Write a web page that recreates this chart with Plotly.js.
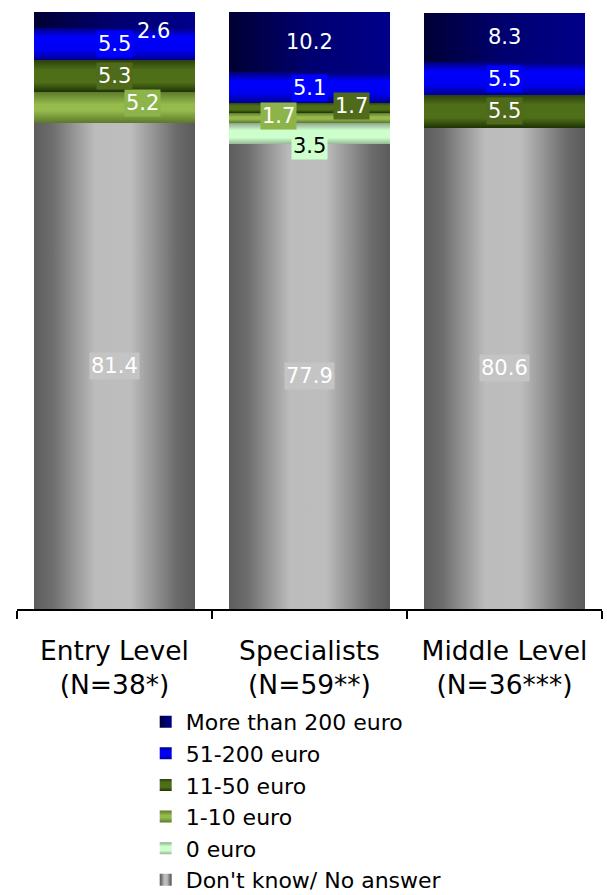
<!DOCTYPE html>
<html>
<head>
<meta charset="utf-8">
<script src="https://cdn.plot.ly/plotly-3.0.1.min.js"></script>
<style>
  html, body { margin: 0; padding: 0; background: #fff; }
  #chart { width: 607px; height: 895px; }
</style>
</head>
<body>
<div id="chart"></div>
<script>
// ---- Data ----
const categories = ['Entry Level<br>(N=38*)', 'Specialists<br>(N=59**)', 'Middle Level<br>(N=36***)'];
const seriesNames = ["Don't know/ No answer", '0 euro', '1-10 euro', '11-50 euro', '51-200 euro', 'More than 200 euro'];
const dontKnow   = [81.4, 77.9, 80.6];
const euro0      = [0, 3.5, 0];
const euro1to10  = [5.2, 1.7, 0];
const euro11to50 = [5.3, 1.7, 5.5];
const euro51to200 = [5.5, 5.1, 5.5];
const euroOver200 = [2.6, 10.2, 8.3];
const seriesValues = [dontKnow, euro0, euro1to10, euro11to50, euro51to200, euroOver200];

// ---- Styles ----
const FONT = 'DejaVu Sans, Verdana, sans-serif';
const baseColors = ['#a6a6a6', '#ccffcc', '#8db04a', '#4f6b1a', '#0000ff', '#000080'];
const labelBg    = ['#c4c4c4', '#ccffcc', '#8db44a', '#4e6a1a', '#0000ff', 'rgba(0,0,0,0)'];
const labelColor = ['#ffffff', '#000000', '#ffffff', '#ffffff', '#ffffff', '#ffffff'];
// gradient definitions: dir h = horizontal, v = vertical
const gradients = [
  {dir: 'h', stops: [[0, '#5c5c5c'], [0.12, '#6e6e6e'], [0.38, '#bcbcbc'], [0.6, '#bdbdbd'], [0.88, '#6c6c6c'], [1, '#5a5a5a']]},
  {dir: 'v', stops: [[0, '#8fa68f'], [0.35, '#ccffcc'], [0.7, '#ccffcc'], [1, '#97b897']]},
  {dir: 'v', stops: [[0, '#5d7a2c'], [0.4, '#95bb4c'], [0.6, '#95bb4c'], [1, '#5b782b']]},
  {dir: 'v', stops: [[0, '#2c420c'], [0.3, '#4e6e18'], [0.7, '#4e6e18'], [1, '#1f3306']]},
  {dir: 'v', stops: [[0, '#00007a'], [0.3, '#0000ff'], [0.7, '#0000f0'], [1, '#000090']]},
  {dir: 'h', stops: [[0, '#000033'], [0.5, '#000070'], [1, '#00008a']]}
];
// label pixel offsets keyed "series,category"
const labelShift = {
  '5,0': [39, -11],
  '2,0': [28, 5],
  '3,1': [42, 2],
  '2,1': [-31, 2],
  '1,1': [0, -13]
};

// ---- Traces ----
const traces = seriesNames.map((name, i) => ({
  type: 'bar',
  name: name,
  x: categories,
  y: seriesValues[i],
  marker: {color: baseColors[i], line: {width: 0}},
  hoverinfo: 'skip'
}));

// ---- Labels (annotations) ----
const annotations = [];
categories.forEach((cat, c) => {
  let base = 0;
  seriesValues.forEach((vals, s) => {
    const v = vals[c];
    if (v > 0) {
      const sh = labelShift[s + ',' + c] || [0, 0];
      annotations.push({
        x: cat, y: Math.min(base + v / 2, base + (100 - base) / 2),
        xref: 'x', yref: 'y',
        text: v.toFixed(1),
        showarrow: false,
        xshift: sh[0], yshift: sh[1],
        bgcolor: labelBg[s],
        borderpad: 1,
        font: {family: FONT, size: 21, color: labelColor[s]}
      });
    }
    base += v;
  });
});

const layout = {
  width: 607, height: 895,
  margin: {l: 17, r: 5, t: 12, b: 286, autoexpand: false},
  paper_bgcolor: '#ffffff', plot_bgcolor: '#ffffff',
  barmode: 'stack',
  bargap: 0.17,
  font: {family: FONT, color: '#000'},
  showlegend: true,
  legend: {
    x: 0.22, y: -0.154, xanchor: 'left', yanchor: 'top',
    traceorder: 'reversed',
    font: {family: FONT, size: 22, color: '#000'},
    bgcolor: 'rgba(0,0,0,0)'
  },
  xaxis: {
    type: 'category', range: [-0.5, 2.5], automargin: false,
    showline: true, linecolor: '#000', linewidth: 2,
    ticks: 'outside', tickson: 'boundaries', ticklen: 8, tickwidth: 1.5, tickcolor: '#000',
    ticklabelstandoff: 17,
    showgrid: false, zeroline: false,
    tickfont: {family: FONT, size: 26.5, color: '#000'}
  },
  yaxis: {range: [0, 100], visible: false, showgrid: false, zeroline: false, automargin: false},
  annotations: annotations
};

function applyGradients(gd) {
  const ns = 'http://www.w3.org/2000/svg';
  const svg = gd.querySelector('.main-svg');
  let defs = svg.querySelector('defs');
  if (!defs) { defs = document.createElementNS(ns, 'defs'); svg.insertBefore(defs, svg.firstChild); }
  gradients.forEach((g, i) => {
    const lg = document.createElementNS(ns, 'linearGradient');
    lg.setAttribute('id', 'segGrad' + i);
    lg.setAttribute('x1', '0'); lg.setAttribute('y1', '0');
    lg.setAttribute('x2', g.dir === 'h' ? '1' : '0');
    lg.setAttribute('y2', g.dir === 'h' ? '0' : '1');
    g.stops.forEach(st => {
      const s = document.createElementNS(ns, 'stop');
      s.setAttribute('offset', st[0]);
      s.setAttribute('stop-color', st[1]);
      lg.appendChild(s);
    });
    defs.appendChild(lg);
  });
  gd.querySelectorAll('.barlayer .trace').forEach((t, k) => {
    let idx = k;
    try { idx = t.__data__[0].trace.index; } catch (e) {}
    t.querySelectorAll('path').forEach(p => { p.style.fill = 'url(#segGrad' + idx + ')'; });
  });
  gd.querySelectorAll('.legend .traces').forEach(t => {
    let idx = null;
    try { idx = t.__data__[0].trace.index; } catch (e) {}
    if (idx === null || idx === undefined) return;
    t.querySelectorAll('.legendpoints path').forEach(p => { p.style.fill = 'url(#segGrad' + idx + ')'; });
  });
}

Plotly.newPlot('chart', traces, layout, {staticPlot: true, displayModeBar: false}).then(applyGradients);
</script>
</body>
</html>
